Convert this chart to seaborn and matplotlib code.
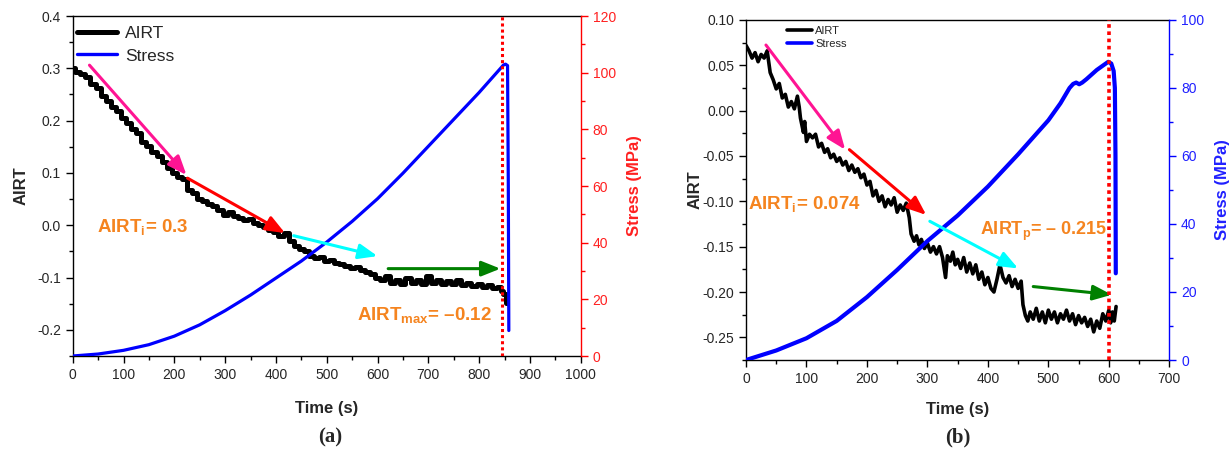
import numpy as np
import pandas as pd
import matplotlib
matplotlib.use("Agg")
import matplotlib.pyplot as plt
from matplotlib.lines import Line2D
from matplotlib.ticker import MultipleLocator, FormatStrFormatter
import seaborn as sns

# ---------------- data: panel (a) ----------------
a_airt_t = [0, 10, 20, 30, 40, 50, 60, 70, 80, 90, 100, 110, 120, 130, 140, 150, 160, 170, 180, 190,
            200, 210, 220, 230, 240, 250, 260, 270, 280, 290, 300, 310, 320, 330, 340, 350, 360, 370, 380, 390,
            400, 410, 420, 430, 440, 450, 460, 470, 480, 490, 500, 510, 520, 530, 540, 550, 560, 570, 580, 590,
            600, 610, 620, 630, 640, 650, 660, 670, 680, 690, 700, 710, 720, 730, 740, 750, 760, 770, 780, 790,
            800, 810, 820, 830, 840, 845, 850, 855]
a_airt = [0.300, 0.292, 0.289, 0.284, 0.270, 0.262, 0.248, 0.238, 0.226, 0.218, 0.205, 0.196, 0.184, 0.176,
          0.160, 0.152, 0.140, 0.132, 0.120, 0.110, 0.100, 0.092, 0.088, 0.068, 0.062, 0.050, 0.046, 0.040,
          0.036, 0.030, 0.020, 0.026, 0.018, 0.014, 0.010, 0.012, 0.004, 0.000, -0.004, -0.010, -0.012,
          -0.020, -0.015, -0.030, -0.040, -0.045, -0.050, -0.058, -0.062, -0.060, -0.068, -0.066, -0.072,
          -0.075, -0.078, -0.082, -0.080, -0.086, -0.090, -0.094, -0.100, -0.104, -0.098, -0.110, -0.104,
          -0.112, -0.100, -0.110, -0.104, -0.112, -0.098, -0.110, -0.104, -0.112, -0.106, -0.112, -0.104,
          -0.114, -0.110, -0.116, -0.112, -0.118, -0.114, -0.120, -0.118, -0.126, -0.132, -0.148]
a_stress_t = [0, 50, 100, 150, 200, 250, 300, 350, 400, 450, 500, 550, 600, 650, 700, 750, 800, 848,
              852, 856, 857.5, 858.5]
a_stress = [0, 0.7, 2.0, 4.0, 7.0, 11.0, 16.0, 21.5, 27.5, 33.5, 40.2, 47.5, 55.5, 64.5, 74.0, 83.5, 93.0,
            102.7, 103.0, 102.5, 60.0, 9.0]
a_peak_t = 845

# ---------------- data: panel (b) ----------------
b_airt_t = [0, 5, 10, 15, 20, 25, 30, 35, 40, 45, 50, 55, 60, 65, 70, 75, 80, 85, 88, 90, 95, 97, 100,
            105, 110, 115, 120, 125, 130, 135, 140, 145, 150, 155, 160, 165, 170, 175, 180, 185, 190, 195,
            200, 205, 210, 215, 220, 225, 230, 235, 240, 245, 250, 255, 260, 265, 270, 273, 278, 282, 286,
            290, 295, 300, 305, 310, 315, 320, 325, 330, 333, 338, 342, 346, 350, 355, 360, 365, 370, 375,
            380, 385, 390, 395, 400, 405, 410, 415, 420, 425, 430, 435, 440, 445, 450, 455, 458, 462, 466,
            470, 475, 480, 485, 490, 495, 500, 505, 510, 515, 520, 525, 530, 535, 540, 545, 550, 555, 560,
            565, 570, 575, 580, 585, 590, 595, 600, 603, 606, 609, 612]
b_airt = [0.072, 0.066, 0.058, 0.064, 0.054, 0.062, 0.058, 0.066, 0.042, 0.034, 0.024, 0.030, 0.014, 0.018,
          0.004, 0.010, 0.002, 0.016, 0.004, -0.008, -0.024, -0.012, -0.034, -0.026, -0.030, -0.026, -0.040,
          -0.036, -0.046, -0.042, -0.052, -0.048, -0.056, -0.052, -0.060, -0.056, -0.066, -0.060, -0.068,
          -0.064, -0.074, -0.070, -0.082, -0.078, -0.094, -0.088, -0.100, -0.094, -0.106, -0.098, -0.104,
          -0.096, -0.112, -0.104, -0.110, -0.102, -0.118, -0.136, -0.144, -0.138, -0.148, -0.142, -0.152,
          -0.146, -0.156, -0.150, -0.158, -0.150, -0.162, -0.184, -0.160, -0.166, -0.156, -0.170, -0.164,
          -0.174, -0.162, -0.178, -0.168, -0.180, -0.170, -0.186, -0.178, -0.192, -0.184, -0.196, -0.200,
          -0.186, -0.170, -0.184, -0.190, -0.182, -0.194, -0.186, -0.196, -0.188, -0.214, -0.226, -0.232,
          -0.222, -0.230, -0.218, -0.232, -0.222, -0.234, -0.220, -0.230, -0.222, -0.234, -0.224, -0.230,
          -0.220, -0.232, -0.224, -0.236, -0.226, -0.234, -0.228, -0.238, -0.230, -0.244, -0.232, -0.240,
          -0.224, -0.232, -0.220, -0.234, -0.222, -0.232, -0.216]
b_stress_t = [0, 50, 100, 150, 200, 250, 300, 350, 400, 450, 500, 520, 535, 541, 546, 551, 556, 563, 580,
              599, 604, 608, 610, 611, 611.5]
b_stress = [0, 2.8, 6.4, 11.5, 18.5, 26.5, 35.0, 42.5, 51.0, 60.5, 70.5, 75.5, 80.0, 81.2, 81.6, 81.1, 81.6,
            82.6, 85.3, 87.7, 87.2, 85.0, 80.0, 60.0, 25.5]
b_peak_t = 600

series_labels = ["AIRT", "Stress"]

# ---------------- style ----------------
sns.set_style("ticks")
plt.rcParams["font.family"] = ["Liberation Sans", "DejaVu Sans"]
plt.rcParams["mathtext.fontset"] = "custom"
plt.rcParams["mathtext.rm"] = "Liberation Sans:bold"
plt.rcParams["mathtext.bf"] = "Liberation Sans:bold"
plt.rcParams["mathtext.it"] = "Liberation Sans:bold"
plt.rcParams["mathtext.default"] = "bf"

ORANGE = "#F5841F"
PINK = "#FF1493"
RED = "#FF0000"
CYAN = "#00FFFF"
GREEN = "#008000"
BLUE = "#0000FF"

fig = plt.figure(figsize=(12.32, 4.54), dpi=100)
fig.patch.set_facecolor("white")

ax_a = fig.add_axes([72.7 / 1232, 98 / 454, 508 / 1232, 340 / 454])
ax_b = fig.add_axes([746 / 1232, 94 / 454, 423.3 / 1232, 340 / 454])


def style_axes(ax, tw, color_right, ax2):
    for sp in ["left", "bottom", "top"]:
        ax.spines[sp].set_color("black")
        ax.spines[sp].set_linewidth(1.0)
    ax.spines["right"].set_visible(False)
    ax.tick_params(axis="both", which="major", direction="out", length=5, width=1, labelsize=tw, color="black")
    ax.tick_params(axis="both", which="minor", direction="out", length=3, width=1, color="black")
    ax.tick_params(top=False, right=False, which="both")
    for sp in ["left", "bottom", "top"]:
        ax2.spines[sp].set_visible(False)
    ax2.spines["right"].set_visible(True)
    ax2.spines["right"].set_color(color_right)
    ax2.spines["right"].set_linewidth(1.0)
    ax2.tick_params(axis="y", which="major", direction="out", length=5, width=1, labelsize=tw,
                    color=color_right, labelcolor=color_right)
    ax2.tick_params(axis="y", which="minor", direction="out", length=3, width=1, color=color_right)


def arrow(ax2, ax1, start, end, color):
    ax2.annotate("", xy=end, xytext=start, xycoords=ax1.transData, textcoords=ax1.transData,
                 arrowprops=dict(arrowstyle="-|>,head_length=0.95,head_width=0.38", color=color,
                                 lw=2.2, mutation_scale=12, shrinkA=0, shrinkB=0), zorder=6)


# ---------------- panel (a) ----------------
ax_a2 = ax_a.twinx()
ax_a2.set_position(ax_a.get_position())
sns.lineplot(x=a_airt_t, y=a_airt, ax=ax_a, color="black", lw=3.6, sort=False, estimator=None,
             drawstyle="steps-mid")
sns.lineplot(x=a_stress_t, y=a_stress, ax=ax_a2, color=BLUE, lw=2.3, sort=False, estimator=None)
ax_a2.axvline(a_peak_t, color=RED, lw=2.2, ls=(0, (1, 1)), zorder=7)

ax_a.set_xlim(0, 1000)
ax_a.set_ylim(-0.25, 0.4)
ax_a2.set_ylim(0, 120)
ax_a.xaxis.set_major_locator(MultipleLocator(100))
ax_a.xaxis.set_minor_locator(MultipleLocator(50))
ax_a.yaxis.set_major_locator(MultipleLocator(0.1))
ax_a.yaxis.set_minor_locator(MultipleLocator(0.05))
ax_a2.yaxis.set_major_locator(MultipleLocator(20))
ax_a2.yaxis.set_minor_locator(MultipleLocator(10))
ax_a.yaxis.set_major_formatter(FormatStrFormatter("%.1f"))
style_axes(ax_a, 10, RED, ax_a2)
ax_a2.tick_params(labelcolor="#FF2020")

ax_a.set_xlabel("Time (s)", fontsize=12, fontweight="bold", labelpad=14)
ax_a.set_ylabel("AIRT", fontsize=12, fontweight="bold", labelpad=6)
ax_a2.set_ylabel("Stress (MPa)", fontsize=12, fontweight="bold", color="#FF2020", labelpad=8)

arrow(ax_a2, ax_a, (33, 0.306), (224, 0.096), PINK)
arrow(ax_a2, ax_a, (226, 0.090), (418, -0.015), RED)
arrow(ax_a2, ax_a, (435, -0.020), (600, -0.059), CYAN)
arrow(ax_a2, ax_a, (621, -0.083), (842, -0.083), GREEN)

ax_a2.text(137, -0.003, "AIRT$_\\mathrm{i}$= 0.3", transform=ax_a.transData, color=ORANGE, fontsize=13.5,
           fontweight="bold", ha="center", va="center", zorder=8)
ax_a2.text(693, -0.172, "AIRT$_\\mathrm{max}$= \u20130.12", transform=ax_a.transData, color=ORANGE,
           fontsize=13.5, fontweight="bold", ha="center", va="center", zorder=8)

handles_a = [Line2D([], [], color="black", lw=3.6), Line2D([], [], color=BLUE, lw=2.4)]
ax_a2.legend(handles_a, series_labels, loc="upper left", bbox_to_anchor=(0.0, 0.985), frameon=False,
             fontsize=12.5, handlelength=2.3, handletextpad=0.45, labelspacing=0.45, borderaxespad=0.15,
             borderpad=0.1)

# ---------------- panel (b) ----------------
ax_b2 = ax_b.twinx()
ax_b2.set_position(ax_b.get_position())
sns.lineplot(x=b_airt_t, y=b_airt, ax=ax_b, color="black", lw=2.6, sort=False, estimator=None)
sns.lineplot(x=b_stress_t, y=b_stress, ax=ax_b2, color=BLUE, lw=3.0, sort=False, estimator=None)
ax_b2.axvline(b_peak_t, color=RED, lw=2.6, ls=(0, (1, 1)), zorder=7)

ax_b.set_xlim(0, 700)
ax_b.set_ylim(-0.275, 0.10)
ax_b2.set_ylim(0, 100)
ax_b.xaxis.set_major_locator(MultipleLocator(100))
ax_b.xaxis.set_minor_locator(MultipleLocator(50))
ax_b.yaxis.set_major_locator(MultipleLocator(0.05))
ax_b.yaxis.set_minor_locator(MultipleLocator(0.025))
ax_b2.yaxis.set_major_locator(MultipleLocator(20))
ax_b2.yaxis.set_minor_locator(MultipleLocator(10))
ax_b.yaxis.set_major_formatter(FormatStrFormatter("%.2f"))
style_axes(ax_b, 10, BLUE, ax_b2)
ax_b2.tick_params(labelcolor="#2020FF")

ax_b.set_xlabel("Time (s)", fontsize=12, fontweight="bold", labelpad=12)
ax_b.set_ylabel("AIRT", fontsize=12, fontweight="bold", labelpad=0)
ax_b2.set_ylabel("Stress (MPa)", fontsize=12, fontweight="bold", color="#2020FF", labelpad=8)

arrow(ax_b2, ax_b, (33, 0.0724), (164, -0.043), PINK)
arrow(ax_b2, ax_b, (171, -0.043), (298, -0.115), RED)
arrow(ax_b2, ax_b, (304, -0.122), (450, -0.174), CYAN)
arrow(ax_b2, ax_b, (475, -0.194), (605, -0.203), GREEN)

ax_b2.text(4, -0.103, "AIRT$_\\mathrm{i}$= 0.074", transform=ax_b.transData, color=ORANGE, fontsize=13.5,
           fontweight="bold", ha="left", va="center", zorder=8)
ax_b2.text(492, -0.133, "AIRT$_\\mathrm{p}$= \u2013 0.215", transform=ax_b.transData, color=ORANGE,
           fontsize=13, fontweight="bold", ha="center", va="center", zorder=8)

handles_b = [Line2D([], [], color="black", lw=2.6), Line2D([], [], color=BLUE, lw=2.6)]
ax_b2.legend(handles_b, series_labels, loc="upper left", bbox_to_anchor=(0.095, 0.985), frameon=False,
             fontsize=8, handlelength=2.2, handletextpad=0.3, labelspacing=0.25, borderaxespad=0.0,
             borderpad=0.1)

# ---------------- sub captions ----------------
fig.text(330 / 1232, 1 - 437 / 454, "(a)", fontsize=15, fontweight="bold", family="Liberation Serif",
         ha="center", va="center")
fig.text(958 / 1232, 1 - 437 / 454, "(b)", fontsize=15, fontweight="bold", family="Liberation Serif",
         ha="center", va="center")

fig.savefig("out.png", dpi=100, facecolor="white")
